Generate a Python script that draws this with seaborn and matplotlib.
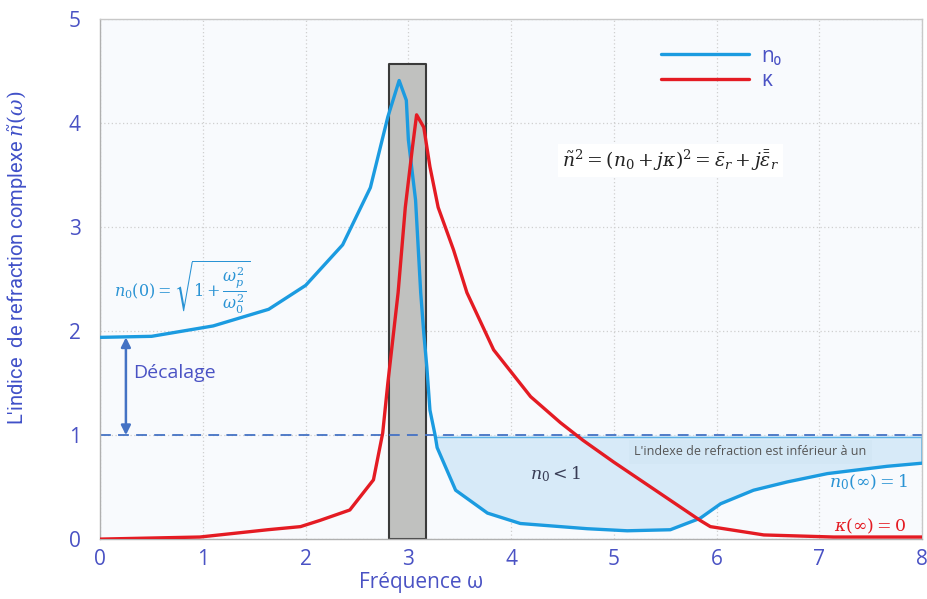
import numpy as np
import pandas as pd
import matplotlib
matplotlib.use("Agg")
import matplotlib.pyplot as plt
import seaborn as sns

# Refractive index (real part) n0 versus frequency
omega_n0 = [0.0, 0.5, 1.1, 1.64, 2.0, 2.36, 2.63, 2.80, 2.91, 2.98, 3.00, 3.07, 3.12,
            3.15, 3.18, 3.21, 3.26, 3.28, 3.46, 3.77, 4.09, 4.74, 5.13, 5.55, 5.84,
            6.04, 6.36, 6.69, 7.08, 7.66, 8.0]
n0_vals = [1.94, 1.95, 2.05, 2.21, 2.44, 2.83, 3.38, 4.06, 4.41, 4.22, 3.84, 3.26, 2.37,
           1.98, 1.65, 1.24, 1.00, 0.88, 0.47, 0.25, 0.15, 0.10, 0.08, 0.09, 0.20,
           0.34, 0.47, 0.55, 0.63, 0.70, 0.73]

# Extinction coefficient kappa versus frequency
omega_k = [0.0, 0.97, 1.63, 1.95, 2.14, 2.43, 2.66, 2.75, 2.80, 2.90, 2.97, 3.04, 3.08,
           3.15, 3.21, 3.29, 3.44, 3.57, 3.83, 4.19, 4.48, 4.70, 5.00, 5.84, 5.94,
           6.46, 7.14, 8.0]
kappa_vals = [0.0, 0.02, 0.09, 0.12, 0.18, 0.28, 0.57, 1.02, 1.50, 2.37, 3.19, 3.77, 4.08,
              3.96, 3.58, 3.19, 2.78, 2.37, 1.82, 1.37, 1.12, 0.95, 0.74, 0.18, 0.12,
              0.04, 0.02, 0.02]

# Absorption band (grey bar) and reference level n = 1
band_lo, band_hi, band_top = 2.81, 3.17, 4.57
ref_level = 1.0

x_ticks = [0, 1, 2, 3, 4, 5, 6, 7, 8]
y_ticks = [0, 1, 2, 3, 4, 5]

BLUE = "#1b9be0"
RED = "#e41b23"
TXT = "#4a52c4"
ARROW = "#4472c4"

sns.set_theme(style="whitegrid")
plt.rcParams["font.family"] = ["Open Sans", "DejaVu Sans"]
plt.rcParams["mathtext.fontset"] = "dejavuserif"

fig = plt.figure(figsize=(9.28, 5.99), dpi=100)
ax = fig.add_axes([0.108, 0.1, 0.8855, 0.868])
ax.set_facecolor("#f8fafd")

df_n0 = pd.DataFrame({"omega": omega_n0, "val": n0_vals})
df_k = pd.DataFrame({"omega": omega_k, "val": kappa_vals})

# Region where n0 < 1
n0_arr = np.array(n0_vals)
ax.fill_between(omega_n0, n0_arr, ref_level, where=n0_arr <= ref_level + 1e-9,
                interpolate=True, color="#d7eaf8", zorder=1, lw=0)
ax.plot([3.26, 8.0], [0.985, 0.985], color="#5fb3e6", lw=1, zorder=1.5)
ax.plot([8.0, 8.0], [0.985, 0.73], color="#5fb3e6", lw=1.2, zorder=1.5)

# Absorption band
ax.fill_between([band_lo, band_hi], 0, band_top, facecolor="#c0c1bf",
                edgecolor="#3a3a3a", lw=1.5, zorder=2)

# Reference level
ax.axhline(ref_level, color=ARROW, lw=1.3, ls=(0, (6, 4)), zorder=2.5)

sns.lineplot(data=df_n0, x="omega", y="val", ax=ax, color=BLUE, lw=2.4,
             sort=False, label="n\u2080", zorder=4)
sns.lineplot(data=df_k, x="omega", y="val", ax=ax, color=RED, lw=2.4,
             sort=False, label="\u03ba", zorder=5)

ax.set_xlim(0, 8)
ax.set_ylim(0, 5)
ax.set_xticks(x_ticks)
ax.set_yticks(y_ticks)
ax.tick_params(axis="both", colors=TXT, labelsize=15, length=0)
ax.tick_params(axis="x", pad=7)
ax.tick_params(axis="y", pad=14)
ax.grid(True, color="#cfcfcf", ls=(0, (1, 2)), lw=0.9)
for s in ax.spines.values():
    s.set_color("#c8c8c8")
    s.set_linewidth(1.0)
ax.spines["left"].set_color("#b0b0b0")
ax.spines["bottom"].set_color("#b0b0b0")

ax.set_xlabel("Fréquence ω", color=TXT, fontsize=15, family=["Open Sans", "DejaVu Sans"])
ax.xaxis.set_label_coords(0.39, -0.063)
ax.set_ylabel(r"L'indice  de refraction complexe $\tilde{n}(\omega)$", color="#4050c8",
              fontsize=14.5, family=["Roboto", "DejaVu Sans"])
ax.yaxis.set_label_coords(-0.085, 0.54)

leg = ax.legend(loc="upper left", bbox_to_anchor=(0.66, 0.985), frameon=False,
                handlelength=4.2, fontsize=15, labelspacing=0.15, handletextpad=0.6)
for t in leg.get_texts():
    t.set_color(TXT)

# Offset arrow
ax.annotate("", xy=(0.25, 1.0), xytext=(0.25, 1.94),
            arrowprops=dict(arrowstyle="<|-|>", color=ARROW, lw=1.8,
                            mutation_scale=14, shrinkA=0, shrinkB=0), zorder=6)
ax.text(0.32, 1.6, "Décalage", color=TXT, fontsize=14, va="center", ha="left")

# Formulas and annotations
ax.text(0.13, 2.42, r"$n_0(0) = \sqrt{1+\dfrac{\omega_p^2}{\omega_0^2}}$",
        color="#2a93d4", fontsize=11.5, va="center", ha="left")
ax.text(5.55, 3.64,
        r"$\tilde{n}^2 = (n_0 + j\kappa)^2 = \bar{\varepsilon}_r + j\bar{\bar{\varepsilon}}_r$",
        color="#222222", fontsize=13.5, va="center", ha="center",
        bbox=dict(facecolor="white", edgecolor="none", pad=3))
ax.text(4.43, 0.62, r"$n_0 < 1$", color="#383c55", fontsize=12.5, va="center", ha="center")
ax.text(7.48, 0.55, r"$n_0(\infty) = 1$", color="#2a93d4", fontsize=12.5,
        va="center", ha="center")
ax.text(7.5, 0.12, r"$\kappa(\infty) = 0$", color=RED, fontsize=12.5,
        va="center", ha="center")
ax.text(5.2, 0.84, "L'indexe de refraction est inférieur à un", color="#555555",
        fontsize=9, va="center", ha="left",
        bbox=dict(facecolor="#d3e7f5", edgecolor="none", pad=4))

fig.savefig("out.png", dpi=100)
